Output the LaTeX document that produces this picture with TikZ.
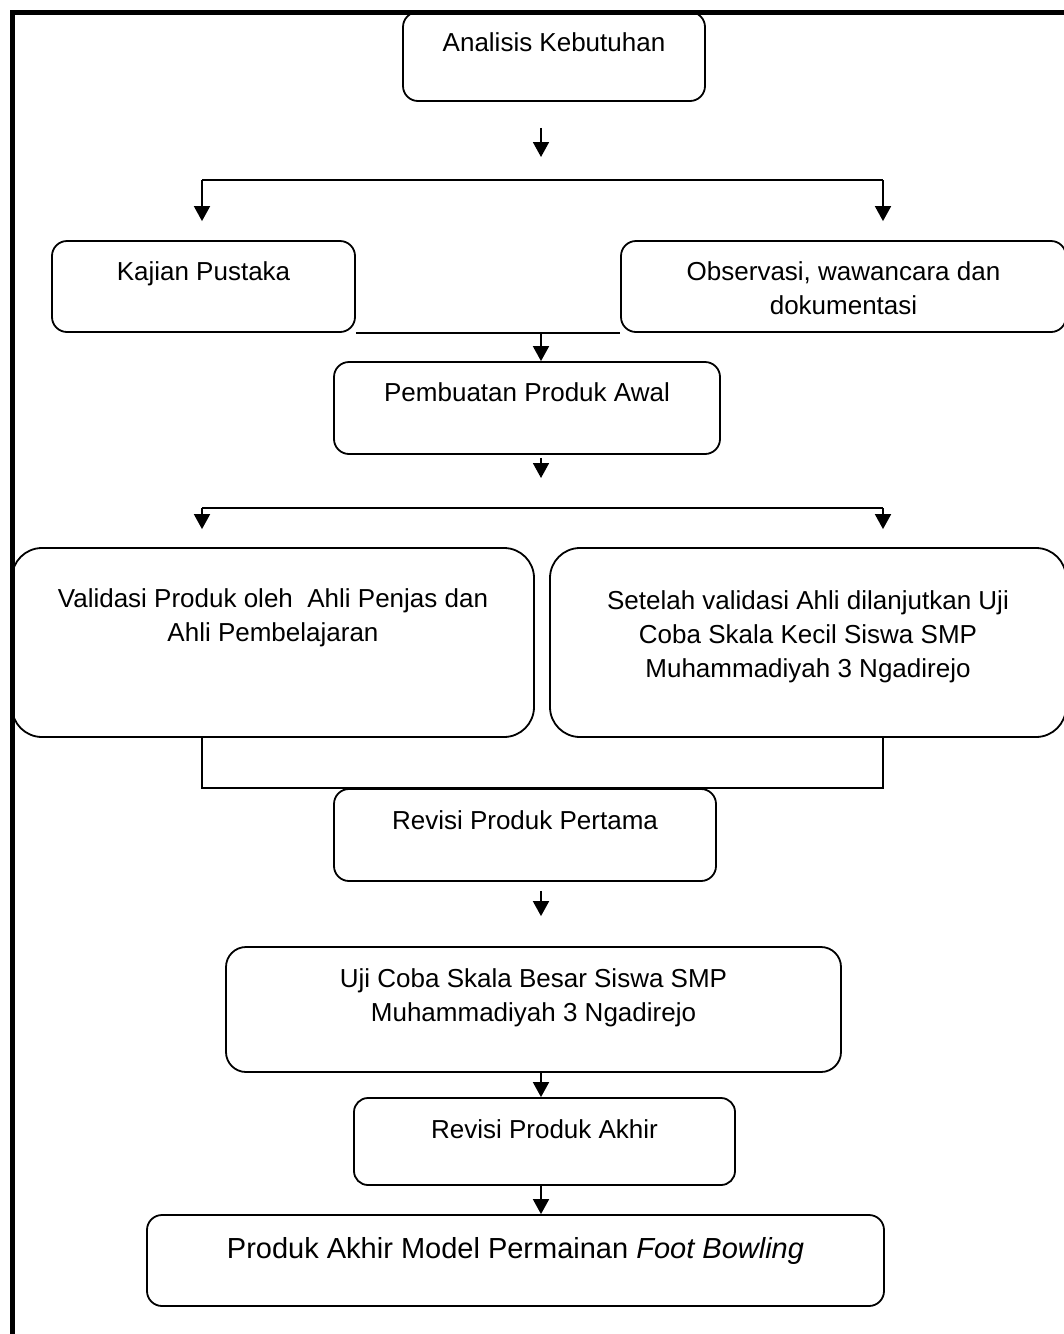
\documentclass[tikz,border=0pt]{standalone}
\usepackage{fontspec}
\setmainfont{Liberation Sans}
\usetikzlibrary{arrows.meta,positioning,fit}

\begin{document}
\begin{tikzpicture}[x=1pt, y=-1pt, >={Triangle[width=16pt,length=15pt]},
  bx/.style={draw, line width=1.8pt, rounded corners=15pt, inner sep=0pt},
  tx/.style={align=center, inner sep=0pt, font=\fontsize{26}{34}\selectfont},
  ar/.style={->, line width=1.8pt},
  ln/.style={line width=1.8pt}]
\useasboundingbox (0,0) rectangle (1064,1334);
\draw[line width=5pt] (12.5,1334) -- (12.5,12) -- (1064,12);
% boxes
\node[bx, fit={(403,12) (705,101)}] (ak) {};
\node[bx, fit={(52,241) (355,332)}] (kp) {};
\node[bx, fit={(621,241) (1066,332)}] (ob) {};
\node[bx, fit={(334,362) (720,454)}] (pa) {};
\node[bx, rounded corners=30pt, fit={(12,548) (534,737)}] (vp) {};
\node[bx, rounded corners=30pt, fit={(550,548) (1066,737)}] (sv) {};
\node[bx, fit={(334,789) (716,881)}] (rp) {};
\node[bx, rounded corners=20pt, fit={(226,947) (841,1072)}] (uc) {};
\node[bx, rounded corners=14pt, fit={(354,1098) (735,1185)}] (ra) {};
\node[bx, fit={(147,1215) (884,1306)}] (pk) {};
% texts
\node[tx, below=21pt of ak.north] (ak-t) {Analisis Kebutuhan};
\node[tx, below=21pt of kp.north] (kp-t) {Kajian Pustaka};
\node[tx, below=21pt of ob.north] (ob-t) {Observasi, wawancara dan\\dokumentasi};
\node[tx, below=21pt of pa.north] (pa-t) {Pembuatan Produk Awal};
\node[tx, below=41pt of vp.north] (vp-t) {Validasi Produk oleh\ \ Ahli Penjas dan\\Ahli Pembelajaran};
\node[tx, below=43pt of sv.north] (sv-t) {Setelah validasi Ahli dilanjutkan Uji\\Coba Skala Kecil Siswa SMP\\Muhammadiyah 3 Ngadirejo};
\node[tx, below=22pt of rp.north] (rp-t) {Revisi Produk Pertama};
\node[tx, below=22pt of uc.north] (uc-t) {Uji Coba Skala Besar Siswa SMP\\Muhammadiyah 3 Ngadirejo};
\node[tx, below=22pt of ra.north] (ra-t) {Revisi Produk Akhir};
\node[tx, font=\fontsize{29}{36}\selectfont, below=23pt of pk.north] (pk-t) {Produk Akhir Model Permainan \textit{Foot Bowling}};
% spine and branch columns
\coordinate (ax) at (541,0);
\coordinate (lx) at (202,0);
\coordinate (rx) at (883,0);
\coordinate (s1) at (541,180);
\coordinate (s2) at (541,508);
% connectors
\draw[ar, shorten <=26pt, shorten >=23pt] (ak.south -| ax) -- (s1);
\draw[ln] (s1 -| lx) -- (s1 -| rx);
\draw[ar, shorten >=19pt] (s1 -| lx) -- (kp.north -| lx);
\draw[ar, shorten >=19pt] (s1 -| rx) -- (ob.north -| rx);
\draw[ln] (kp.south east) -- (ob.south west);
\draw[ar] (kp.south -| ax) -- (pa.north -| ax);
\draw[ar, shorten <=3pt, shorten >=30pt] (pa.south -| ax) -- (s2);
\draw[ln] (s2 -| lx) -- (s2 -| rx);
\draw[ar, shorten >=18pt] (s2 -| lx) -- (vp.north -| lx);
\draw[ar, shorten >=18pt] (s2 -| rx) -- (sv.north -| rx);
\draw[ln] (vp.south -| lx) -- (rp.north -| lx) -- (rp.north -| rx) -- (sv.south -| rx);
\draw[ar, shorten <=9pt, shorten >=30pt] (rp.south -| ax) -- (uc.north -| ax);
\draw[ar] (uc.south -| ax) -- (ra.north -| ax);
\draw[ar] (ra.south -| ax) -- (pk.north -| ax);
\end{tikzpicture}
\end{document}
